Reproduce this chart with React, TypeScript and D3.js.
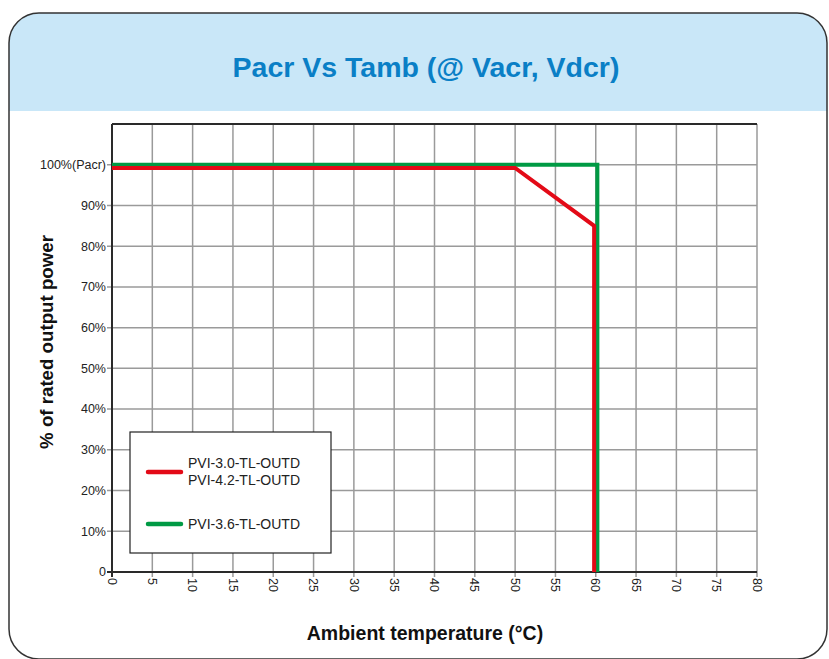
import React, { useEffect, useRef } from 'react';
import * as d3 from 'd3';

// temperature (°C) vs % of rated output power
const redTemps = [0, 50, 59.8, 59.8];
const redPower = [99.2, 99.2, 85, 0];
const greenTemps = [0, 60.2, 60.2];
const greenPower = [100, 100, 0];
const xTicks = d3.range(0, 81, 5);
const yTicks = d3.range(0, 101, 10);
const yTickLabels = ['0', '10%', '20%', '30%', '40%', '50%', '60%', '70%', '80%', '90%', '100%(Pacr)'];
const legendRed = ['PVI-3.0-TL-OUTD', 'PVI-4.2-TL-OUTD'];
const legendGreen = ['PVI-3.6-TL-OUTD'];

const RED = '#e30a17';
const GREEN = '#009a44';

const App = () => {
    const ref = useRef<SVGSVGElement>(null);

    useEffect(() => {
        if (!ref.current) return;
        const svg = d3.select(ref.current);
        svg.selectAll('*').remove();
        const font = 'Liberation Sans, Arial, sans-serif';

        // panel
        const defs = svg.append('defs');
        defs.append('clipPath').attr('id', 'panel')
            .append('rect').attr('x', 9).attr('y', 13).attr('width', 818).attr('height', 646).attr('rx', 30);
        svg.append('rect').attr('x', 9).attr('y', 13).attr('width', 818).attr('height', 646).attr('rx', 30)
            .attr('fill', '#fff');
        svg.append('rect').attr('clip-path', 'url(#panel)')
            .attr('x', 0).attr('y', 0).attr('width', 829).attr('height', 111).attr('fill', '#c9e7f8');
        svg.append('rect').attr('x', 9).attr('y', 13).attr('width', 818).attr('height', 646).attr('rx', 30)
            .attr('fill', 'none').attr('stroke', '#333').attr('stroke-width', 1.5);

        svg.append('text').attr('x', 426).attr('y', 77).attr('text-anchor', 'middle')
            .attr('font-family', font).attr('font-size', 28.5).attr('font-weight', 'bold')
            .attr('fill', '#0a7fc6').text('Pacr Vs Tamb (@ Vacr, Vdcr)');

        const x = d3.scaleLinear().domain([0, 80]).range([112, 757]);
        const y = d3.scaleLinear().domain([0, 110]).range([572, 124]);

        // grid
        const g = svg.append('g');
        g.selectAll('.vg').data(xTicks.slice(1)).enter().append('line')
            .attr('x1', d => x(d)).attr('x2', d => x(d))
            .attr('y1', y(110)).attr('y2', y(0) + 5)
            .attr('stroke', '#9a9a9a').attr('stroke-width', 1.5);
        g.selectAll('.hg').data(yTicks.slice(1)).enter().append('line')
            .attr('x1', x(0) - 5).attr('x2', x(80))
            .attr('y1', d => y(d)).attr('y2', d => y(d))
            .attr('stroke', '#9a9a9a').attr('stroke-width', 1.5);

        // frame
        g.append('line').attr('x1', x(0)).attr('x2', x(80)).attr('y1', y(110)).attr('y2', y(110))
            .attr('stroke', '#2a2a2a').attr('stroke-width', 2);
        g.append('line').attr('x1', x(0)).attr('x2', x(0)).attr('y1', y(110)).attr('y2', y(0))
            .attr('stroke', '#2a2a2a').attr('stroke-width', 2);
        g.append('line').attr('x1', x(0) - 5).attr('x2', x(80)).attr('y1', y(0)).attr('y2', y(0))
            .attr('stroke', '#2a2a2a').attr('stroke-width', 2);
        g.append('line').attr('x1', x(0)).attr('x2', x(0)).attr('y1', y(0)).attr('y2', y(0) + 5)
            .attr('stroke', '#2a2a2a').attr('stroke-width', 2);

        // tick labels
        g.selectAll('.yl').data(yTicks).enter().append('text')
            .attr('x', x(0) - 6).attr('y', d => y(d)).attr('dy', '0.35em')
            .attr('text-anchor', 'end').attr('font-family', font).attr('font-size', 12.5)
            .attr('fill', '#222').text((d, i) => yTickLabels[i]);
        g.selectAll('.xl').data(xTicks).enter().append('text')
            .attr('transform', d => `translate(${x(d)},${y(0) + 6}) rotate(90)`)
            .attr('dy', '0.35em').attr('text-anchor', 'start')
            .attr('font-family', font).attr('font-size', 12.5).attr('fill', '#222')
            .text(d => String(d));

        // axis titles
        svg.append('text').attr('x', 425).attr('y', 640).attr('text-anchor', 'middle')
            .attr('font-family', font).attr('font-size', 19.5).attr('font-weight', 'bold')
            .attr('fill', '#111').text('Ambient temperature (°C)');
        svg.append('text').attr('transform', 'translate(53,342) rotate(-90)').attr('text-anchor', 'middle')
            .attr('font-family', font).attr('font-size', 18.7).attr('font-weight', 'bold')
            .attr('fill', '#111').text('% of rated output power');

        // series
        const line = d3.line<[number, number]>().x(d => x(d[0])).y(d => y(d[1]));
        svg.append('path').datum(greenTemps.map((t, i) => [t, greenPower[i]] as [number, number]))
            .attr('d', line).attr('fill', 'none').attr('stroke', GREEN).attr('stroke-width', 4);
        svg.append('path').datum(redTemps.map((t, i) => [t, redPower[i]] as [number, number]))
            .attr('d', line).attr('fill', 'none').attr('stroke', RED).attr('stroke-width', 4);

        // legend
        const lg = svg.append('g');
        lg.append('rect').attr('x', 130).attr('y', 432).attr('width', 201).attr('height', 121)
            .attr('fill', '#fff').attr('stroke', '#222').attr('stroke-width', 1.2);
        lg.append('line').attr('x1', 148).attr('x2', 181).attr('y1', 472).attr('y2', 472)
            .attr('stroke', RED).attr('stroke-width', 4.5).attr('stroke-linecap', 'round');
        lg.append('line').attr('x1', 148).attr('x2', 181).attr('y1', 524).attr('y2', 524)
            .attr('stroke', GREEN).attr('stroke-width', 4.5).attr('stroke-linecap', 'round');
        legendRed.forEach((t, i) => {
            lg.append('text').attr('x', 188).attr('y', 468 + i * 17)
                .attr('font-family', font).attr('font-size', 14).attr('fill', '#222').text(t);
        });
        legendGreen.forEach(t => {
            lg.append('text').attr('x', 188).attr('y', 529)
                .attr('font-family', font).attr('font-size', 14).attr('fill', '#222').text(t);
        });
    }, []);

    return (
        <svg ref={ref} width={829} height={659} style={{ position: 'absolute', left: 0, top: 0 }}></svg>
    );
};

export default App;
